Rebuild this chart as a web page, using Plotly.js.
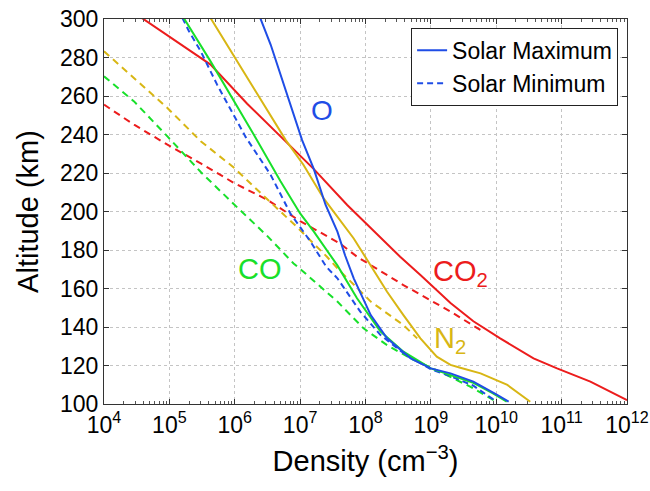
<!DOCTYPE html>
<html><head><meta charset="utf-8">
<script src="https://cdn.plot.ly/plotly-3.0.1.min.js"></script>
<style>html,body{margin:0;padding:0;background:#fff}#chart{width:650px;height:491px}</style>
</head><body><div id="chart"></div>
<script>
// log10(density in cm^-3) and altitude (km) for each profile
const co2MaxLog = [4.58,5.63,6.19,6.72,7.21,7.72,8.33,8.53,8.84,9.15,9.30,9.65,10.06,10.57,10.93,11.44,12.0];
const co2MaxAlt = [300.5,276.3,256,238.5,222,203.4,183.5,176.5,167,157.5,152.5,143,134.1,123.7,118.5,111.6,102];
const co2MinLog = [4.0,4.46,4.97,5.48,5.98,6.50,7.0,7.61,7.87,8.08,8.58,9.30,9.76];
const co2MinAlt = [255.5,245.1,234.7,225,215,206,195,183.4,176.5,172.2,161.8,148,138.4];
const n2MaxLog = [5.63,6.78,7.05,7.36,7.82,8.08,8.33,8.58,8.84,9.09,9.30,9.45,9.76,10.17,10.52];
const n2MaxAlt = [300.5,237.1,224.3,206.8,186,172,158.3,146.2,134.1,124.6,120.3,118.8,115.9,109.9,101.2];
const n2MinLog = [4.0,4.46,4.97,5.48,5.98,6.29,6.95,7.41,7.57,8.08,8.58,8.79];
const n2MinAlt = [283.2,269.4,253.8,236.5,223,213,192,176.5,170.5,153.2,141,134.1];
const coMaxLog = [5.22,5.63,6.29,6.70,7.0,7.21,7.57,7.87,8.23,8.58,9.0,9.30,9.65,9.95,10.16];
const coMaxAlt = [300.5,278,240,215.7,199,189.5,172,154.9,137.6,127.2,118.5,115.1,111,105.5,101.2];
const coMinLog = [4.0,4.46,4.97,5.48,5.98,6.50,6.90,7.05,7.57,7.97,8.33,8.69,9.19,9.6,9.96];
const coMinAlt = [270.2,257.2,239,220.5,204,187.2,173,168.7,153.2,139.3,130.6,123.7,115.9,109,102];
const oMaxLog = [6.39,6.55,7.03,7.21,7.39,7.57,7.69,7.82,8.08,8.33,8.69,9.0,9.30,9.65,10.0,10.19];
const oMaxAlt = [300.5,286.6,237.1,222,203.4,189.5,177,165.3,146.2,134.1,123.7,118.5,115.9,111.6,105,101.2];
const oMinLog = [5.20,5.30,5.48,5.73,6.17,6.55,6.85,7.16,7.40,7.57,7.92,8.23,8.58,9.0,9.3,9.65,9.98];
const oMinAlt = [300.5,293.6,283.2,265.9,238.5,219,199,184.3,171.3,165.3,148,135.8,126.5,118,114.5,109.5,101.8];

const xTickVals = [1e4,1e5,1e6,1e7,1e8,1e9,1e10,1e11,1e12];
const xTickText = ['10<sup>4</sup>','10<sup>5</sup>','10<sup>6</sup>','10<sup>7</sup>','10<sup>8</sup>','10<sup>9</sup>','10<sup>10</sup>','10<sup>11</sup>','10<sup>12</sup>'];
const yTickVals = [100,120,140,160,180,200,220,240,260,280,300];

const RED='#ec1c1c', YEL='#d8b614', GRN='#18e02a', BLU='#1f4de6';
const pow = a => a.map(v => Math.pow(10, v));
function tr(lg, alt, color, dash, name, show){
  return {x: pow(lg), y: alt, type:'scatter', mode:'lines', name: name||'', showlegend: !!show,
    line:{color:color, width:2, dash: dash ? '7px,5px' : 'solid'}, hoverinfo:'skip'};
}
const data = [
  tr(co2MinLog, co2MinAlt, RED, true),
  tr(n2MinLog, n2MinAlt, YEL, true),
  tr(coMinLog, coMinAlt, GRN, true),
  tr(co2MaxLog, co2MaxAlt, RED, false),
  tr(n2MaxLog, n2MaxAlt, YEL, false),
  tr(oMinLog, oMinAlt, BLU, true, 'Solar Minimum', true),
  tr(coMaxLog, coMaxAlt, GRN, false),
  tr(oMaxLog, oMaxAlt, BLU, false, 'Solar Maximum', true),
];
data[5].legendrank = 2; data[7].legendrank = 1;
data[5].line.dash = '6px,4px';

const FF = 'Liberation Sans, Arial, sans-serif';
const f = (size, color) => ({family:FF, size:size, color:color||'#000'});
const layout = {
  width:650, height:491,
  margin:{l:103.5, r:23, t:19, b:87},
  paper_bgcolor:'#fff', plot_bgcolor:'#fff',
  showlegend:true,
  legend:{x:0.983, y:0.977, xanchor:'right', yanchor:'top', bgcolor:'#fff', bordercolor:'#222', borderwidth:1,
    font:f(23), traceorder:'normal', tracegroupgap:0},
  xaxis:{type:'log', range:[4,12], tickvals:xTickVals, ticktext:xTickText, ticks:'inside', ticklen:5,
    tickcolor:'#333', showline:true, linecolor:'#333', linewidth:1, mirror:'ticks',
    showgrid:true, gridcolor:'#c4c4c4', griddash:'dot', gridwidth:1, zeroline:false,
    tickfont:f(23),
    minor:{ticks:'inside', ticklen:3, tickcolor:'#555', dtick:'D1', showgrid:false},
    title:{text:'Density (cm<sup>\u22123</sup>)', font:f(29), standoff:14}},
  yaxis:{range:[100,300], tickvals:yTickVals, ticks:'inside', ticklen:5, tickcolor:'#333',
    showline:true, linecolor:'#333', linewidth:1, mirror:'ticks',
    showgrid:true, gridcolor:'#c4c4c4', griddash:'dot', gridwidth:1, zeroline:false,
    tickfont:f(23),
    title:{text:'Altitude (km)', font:f(29), standoff:12}},
  annotations:[
    {x:7.33, y:252.5, xref:'x', yref:'y', text:'O', showarrow:false, font:f(28, BLU)},
    {x:6.38, y:170, xref:'x', yref:'y', text:'CO', showarrow:false, font:f(29, GRN)},
    {x:9.45, y:168, xref:'x', yref:'y', text:'CO<sub>2</sub>', showarrow:false, font:f(29, RED)},
    {x:9.30, y:133, xref:'x', yref:'y', text:'N<sub>2</sub>', showarrow:false, font:f(29, YEL)}
  ]
};
Plotly.newPlot('chart', data, layout, {displayModeBar:false, staticPlot:true});
</script></body></html>
